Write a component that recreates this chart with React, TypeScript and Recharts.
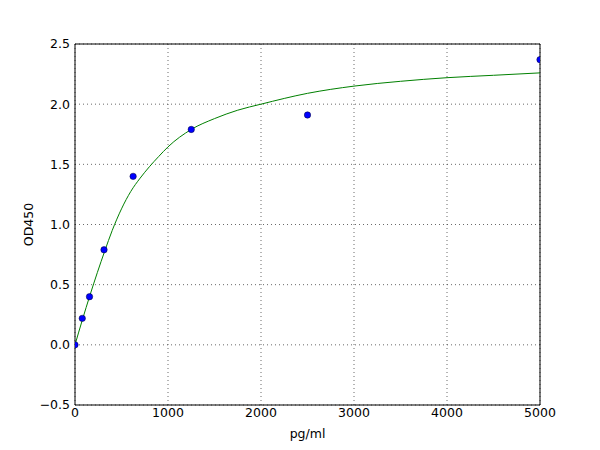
import React from 'react'
import { ComposedChart, Line, Scatter, XAxis, YAxis, CartesianGrid, ReferenceLine } from 'recharts'

// measured standards
const standardConc = [0, 78, 156, 312, 625, 1250, 2500, 5000]
const standardOD = [0.0, 0.22, 0.4, 0.79, 1.4, 1.79, 1.91, 2.37]

// fitted curve
const curveConc = [0, 80, 160, 240, 320, 400, 500, 600, 700, 800, 900, 1000, 1250, 1500, 1750, 2000, 2500, 3000, 3500, 4000, 4500, 5000]
const curveOD = [0, 0.21, 0.41, 0.6, 0.78, 0.95, 1.13, 1.275, 1.385, 1.48, 1.565, 1.645, 1.79, 1.88, 1.95, 2.0, 2.09, 2.15, 2.19, 2.22, 2.24, 2.26]

const xTicks = [0, 1000, 2000, 3000, 4000, 5000]
const yTicks = [-0.5, 0, 0.5, 1.0, 1.5, 2.0, 2.5]

const points = standardConc.map((x, i) => ({ x, y: standardOD[i] }))
const curve = curveConc.map((x, i) => ({ x, y: curveOD[i] }))

const FONT = "'DejaVu Sans', sans-serif"
const tickStyle = { fill: '#000', fontSize: 12.5, fontFamily: FONT }

const fmtY = (v: number) => (v < 0 ? '\u2212' + Math.abs(v).toFixed(1) : v.toFixed(1))

const Dot = (p: any) => (
  <circle cx={p.cx} cy={p.cy} r={3.2} fill="#0000ff" stroke="#000033" strokeWidth={0.5} />
)

export default function App() {
  return (
    <div style={{ position: 'absolute', left: 0, top: 0, width: 600, height: 450, background: '#fff' }}>
      <ComposedChart width={600} height={450} margin={{ top: 44, right: 60, bottom: 0, left: 0 }}>
        <CartesianGrid stroke="#444" strokeDasharray="1 3" strokeWidth={0.8} />
        <XAxis
          type="number"
          dataKey="x"
          domain={[0, 5000]}
          ticks={xTicks}
          allowDataOverflow
          height={45}
          tickLine={false}
          tickSize={0}
          tickMargin={3}
          axisLine={{ stroke: '#000' }}
          tick={tickStyle}
          label={{
            content: ({ viewBox }: any) => (
              <text x={viewBox.x + viewBox.width / 2} y={438} textAnchor="middle" fontSize={12.5} fontFamily={FONT} fill="#000">
                pg/ml
              </text>
            ),
          }}
        />
        <YAxis
          type="number"
          dataKey="y"
          domain={[-0.5, 2.5]}
          ticks={yTicks}
          allowDataOverflow
          width={75}
          tickLine={false}
          tickSize={0}
          tickMargin={5}
          tickFormatter={fmtY}
          axisLine={{ stroke: '#000' }}
          tick={tickStyle}
          label={{
            content: ({ viewBox }: any) => {
              const cy = viewBox.y + viewBox.height / 2
              return (
                <text x={28} y={cy} transform={`rotate(-90, 28, ${cy})`} textAnchor="middle" dominantBaseline="central" fontSize={12.5} fontFamily={FONT} fill="#000">
                  OD450
                </text>
              )
            },
          }}
        />
        {/* closing frame on top and right */}
        <ReferenceLine y={2.5} stroke="#000" strokeWidth={1} />
        <ReferenceLine x={5000} stroke="#000" strokeWidth={1} />
        <Line data={curve} dataKey="y" type="monotone" stroke="#008000" strokeWidth={1} dot={false} activeDot={false} isAnimationActive={false} />
        <Scatter data={points} dataKey="y" shape={Dot} isAnimationActive={false} />
      </ComposedChart>
    </div>
  )
}
